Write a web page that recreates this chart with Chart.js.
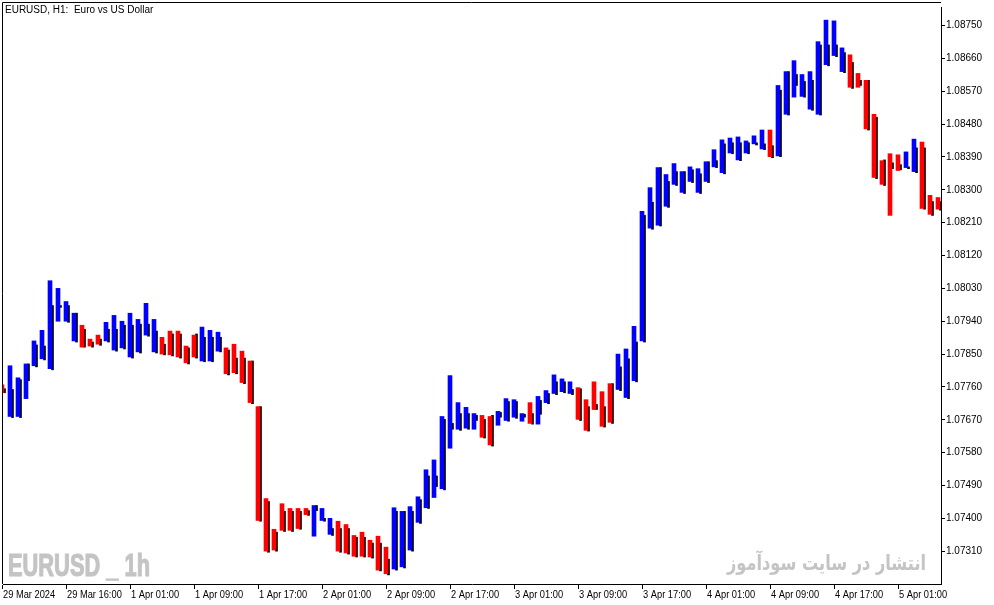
<!DOCTYPE html>
<html>
<head>
<meta charset="utf-8">
<script src="https://cdn.jsdelivr.net/npm/chart.js@4.4.1/dist/chart.umd.min.js"></script>
<style>
  html, body { margin: 0; padding: 0; background: #fff; }
</style>
</head>
<body>
<canvas id="chart" width="994" height="605"></canvas>
<script>
// EURUSD H1, 29 Mar 2024 08:00 -> 5 Apr 2024 05:00, one value per bar
const opens = [
  1.07766, 1.07679, 1.07679, 1.07728, 1.07818, 1.07837, 1.07810, 1.07940, 1.07940, 1.07886,
  1.07929, 1.07891, 1.07902, 1.07886, 1.07861, 1.07867, 1.07842, 1.07856, 1.07902, 1.07856,
  1.07896, 1.07913, 1.07913, 1.07872, 1.07902, 1.07831, 1.07831, 1.07858, 1.07867, 1.07877,
  1.07858, 1.07831, 1.07706, 1.07454, 1.07370, 1.07440, 1.07427, 1.07427, 1.07427, 1.07351,
  1.07394, 1.07356, 1.07392, 1.07383, 1.07353, 1.07362, 1.07340, 1.07351, 1.07321, 1.07261,
  1.07267, 1.07313, 1.07389, 1.07429, 1.07457, 1.07481, 1.07592, 1.07644, 1.07647, 1.07644,
  1.07682, 1.07679, 1.07655, 1.07668, 1.07677, 1.07666, 1.07717, 1.07658, 1.07717, 1.07742,
  1.07747, 1.07742, 1.07758, 1.07725, 1.07774, 1.07747, 1.07769, 1.07753, 1.07731, 1.07777,
  1.07886, 1.08195, 1.08203, 1.08255, 1.08315, 1.08293, 1.08323, 1.08293, 1.08323, 1.08363,
  1.08347, 1.08401, 1.08382, 1.08401, 1.08426, 1.08412, 1.08464, 1.08393, 1.08507, 1.08554,
  1.08556, 1.08521, 1.08507, 1.08643, 1.08668, 1.08624, 1.08670, 1.08619, 1.08600, 1.08507,
  1.08380, 1.08399, 1.08396, 1.08361, 1.08350, 1.08431, 1.08285, 1.08279
];
const closes = [
  1.07744, 1.07818, 1.07785, 1.07823, 1.07886, 1.07915, 1.08051, 1.08030, 1.07994, 1.07962,
  1.07869, 1.07872, 1.07877, 1.07937, 1.07956, 1.07940, 1.07962, 1.07945, 1.07989, 1.07945,
  1.07850, 1.07848, 1.07842, 1.07826, 1.07842, 1.07924, 1.07915, 1.07910, 1.07796, 1.07799,
  1.07772, 1.07717, 1.07394, 1.07310, 1.07313, 1.07367, 1.07367, 1.07372, 1.07410, 1.07435,
  1.07427, 1.07400, 1.07310, 1.07305, 1.07296, 1.07296, 1.07294, 1.07258, 1.07248, 1.07429,
  1.07419, 1.07432, 1.07459, 1.07533, 1.07560, 1.07679, 1.07791, 1.07717, 1.07704, 1.07687,
  1.07622, 1.07601, 1.07693, 1.07728, 1.07725, 1.07687, 1.07660, 1.07734, 1.07750, 1.07793,
  1.07782, 1.07774, 1.07671, 1.07641, 1.07698, 1.07652, 1.07663, 1.07850, 1.07864, 1.07926,
  1.08241, 1.08306, 1.08361, 1.08342, 1.08372, 1.08350, 1.08363, 1.08358, 1.08377, 1.08410,
  1.08437, 1.08442, 1.08445, 1.08434, 1.08448, 1.08464, 1.08391, 1.08586, 1.08624, 1.08654,
  1.08616, 1.08624, 1.08706, 1.08765, 1.08763, 1.08689, 1.08581, 1.08581, 1.08467, 1.08334,
  1.08315, 1.08230, 1.08353, 1.08404, 1.08439, 1.08249, 1.08233, 1.08247
];
// black shadow strip on the right side of each bar
const shadowHigh = [
  1.07755, 1.07753, 1.07780, 1.07823, 1.07875, 1.07872, 1.07983, 1.07983, 1.07983, 1.07962,
  1.07918, 1.07883, 1.07891, 1.07918, 1.07918, 1.07929, 1.07929, 1.07932, 1.07932, 1.07913,
  1.07877, 1.07905, 1.07905, 1.07867, 1.07905, 1.07896, 1.07896, 1.07896, 1.07861, 1.07839,
  1.07839, 1.07831, 1.07706, 1.07446, 1.07362, 1.07419, 1.07419, 1.07419, 1.07421, 1.07435,
  1.07400, 1.07372, 1.07372, 1.07372, 1.07348, 1.07348, 1.07332, 1.07332, 1.07288, 1.07419,
  1.07419, 1.07419, 1.07451, 1.07516, 1.07516, 1.07671, 1.07660, 1.07687, 1.07687, 1.07682,
  1.07671, 1.07682, 1.07690, 1.07720, 1.07720, 1.07685, 1.07687, 1.07723, 1.07742, 1.07774,
  1.07774, 1.07753, 1.07755, 1.07706, 1.07712, 1.07706, 1.07769, 1.07815, 1.07837, 1.07883,
  1.08230, 1.08266, 1.08361, 1.08323, 1.08350, 1.08350, 1.08355, 1.08344, 1.08377, 1.08380,
  1.08426, 1.08429, 1.08429, 1.08429, 1.08429, 1.08426, 1.08421, 1.08573, 1.08624, 1.08616,
  1.08597, 1.08600, 1.08697, 1.08697, 1.08697, 1.08676, 1.08649, 1.08600, 1.08600, 1.08499,
  1.08382, 1.08374, 1.08369, 1.08363, 1.08415, 1.08415, 1.08268, 1.08268
];
const shadowLow = [
  1.07744, 1.07676, 1.07676, 1.07777, 1.07815, 1.07834, 1.07807, 1.07978, 1.07937, 1.07883,
  1.07869, 1.07869, 1.07874, 1.07883, 1.07858, 1.07864, 1.07839, 1.07853, 1.07899, 1.07853,
  1.07848, 1.07845, 1.07839, 1.07823, 1.07839, 1.07829, 1.07829, 1.07856, 1.07793, 1.07796,
  1.07769, 1.07714, 1.07392, 1.07307, 1.07310, 1.07364, 1.07364, 1.07370, 1.07408, 1.07421,
  1.07392, 1.07353, 1.07307, 1.07302, 1.07294, 1.07294, 1.07291, 1.07256, 1.07245, 1.07258,
  1.07264, 1.07310, 1.07386, 1.07427, 1.07487, 1.07478, 1.07644, 1.07641, 1.07644, 1.07668,
  1.07620, 1.07598, 1.07677, 1.07666, 1.07674, 1.07677, 1.07658, 1.07685, 1.07714, 1.07739,
  1.07744, 1.07739, 1.07668, 1.07639, 1.07698, 1.07650, 1.07660, 1.07750, 1.07728, 1.07774,
  1.07883, 1.08192, 1.08201, 1.08252, 1.08312, 1.08290, 1.08320, 1.08290, 1.08320, 1.08361,
  1.08344, 1.08399, 1.08380, 1.08399, 1.08423, 1.08410, 1.08388, 1.08391, 1.08505, 1.08586,
  1.08554, 1.08518, 1.08505, 1.08640, 1.08665, 1.08621, 1.08578, 1.08586, 1.08464, 1.08331,
  1.08312, 1.08358, 1.08355, 1.08358, 1.08347, 1.08247, 1.08230, 1.08244
];

// one time label every 8 bars
const labelStep = 8;
const timeLabels = [
  "29 Mar 2024", "29 Mar 16:00", "1 Apr 01:00", "1 Apr 09:00", "1 Apr 17:00",
  "2 Apr 01:00", "2 Apr 09:00", "2 Apr 17:00", "3 Apr 01:00", "3 Apr 09:00",
  "3 Apr 17:00", "4 Apr 01:00", "4 Apr 09:00", "4 Apr 17:00", "5 Apr 01:00"
];
const priceTicks = [
  1.07310, 1.07400, 1.07490, 1.07580, 1.07670, 1.07760, 1.07850, 1.07940, 1.08030,
  1.08120, 1.08210, 1.08300, 1.08390, 1.08480, 1.08570, 1.08660, 1.08750
];

const UP = "#0000ff";
const DOWN = "#ff0000";
const FONT = '"Liberation Sans", Arial, sans-serif';

const bodies = opens.map((o, i) => ({ x: i, y: [o, closes[i]] }));
const shadows = shadowHigh.map((h, i) => ({ x: i, y: [shadowLow[i], h] }));
const bodyColors = opens.map((o, i) => (closes[i] >= o ? UP : DOWN));

// draw text squeezed/stretched to a given width
function fitText(ctx, text, x, y, width, stroke) {
  const w = ctx.measureText(text).width;
  ctx.save();
  ctx.translate(x, y);
  ctx.scale(width / w, 1);
  ctx.fillText(text, 0, 0);
  if (stroke) ctx.strokeText(text, 0, 0);
  ctx.restore();
}

// frame, title, time labels and the two watermarks
const decor = {
  id: "decor",
  beforeDatasetsDraw(chart) {
    const ctx = chart.ctx;
    ctx.save();
    ctx.fillStyle = "#c4c4c4";
    ctx.strokeStyle = "#c4c4c4";
    ctx.lineWidth = 1.2;
    ctx.textBaseline = "alphabetic";
    ctx.font = 'bold 31px "Liberation Sans", Arial, sans-serif';
    fitText(ctx, "EURUSD _ 1h", 8, 576, 142, true);
    ctx.font = 'bold 21px "DejaVu Sans", sans-serif';
    fitText(ctx, "انتشار در سایت سودآموز", 727, 570, 199, false);
    ctx.restore();
  },
  afterDraw(chart) {
    const ctx = chart.ctx;
    const a = chart.chartArea;
    const xs = chart.scales.x;
    ctx.save();
    ctx.strokeStyle = "#000";
    ctx.lineWidth = 1;
    ctx.beginPath();
    ctx.moveTo(2.5, a.bottom);
    ctx.lineTo(2.5, 2.5);
    ctx.lineTo(a.right, 2.5);
    ctx.stroke();
    ctx.fillStyle = "#000";
    ctx.font = "10px " + FONT;
    ctx.textBaseline = "alphabetic";
    ctx.fillText("EURUSD, H1:  Euro vs US Dollar", 5, 13);
    timeLabels.forEach((t, k) => {
      const w = ctx.measureText(t).width * 0.93;
      fitText(ctx, t, xs.getPixelForValue(k * labelStep) + 1, 598, w, false);
    });
    ctx.restore();
  }
};

new Chart(document.getElementById("chart"), {
  type: "bar",
  data: {
    datasets: [
      {
        data: bodies,
        backgroundColor: bodyColors,
        barThickness: 4,
        borderWidth: 0,
        borderSkipped: false,
        grouped: false,
        xAxisID: "x",
        yAxisID: "y"
      },
      {
        data: shadows,
        backgroundColor: "#000",
        barThickness: 2,
        borderWidth: 0,
        borderSkipped: false,
        grouped: false,
        xAxisID: "xShadow",
        yAxisID: "y"
      }
    ]
  },
  plugins: [decor],
  options: {
    responsive: false,
    animation: false,
    events: [],
    layout: { padding: { left: 3, top: 2, right: 0, bottom: 0 } },
    plugins: { legend: { display: false }, tooltip: { enabled: false } },
    scales: {
      x: {
        type: "linear",
        offset: false,
        min: 0.125,
        max: 117.375,
        afterBuildTicks: (s) => {
          s.ticks = timeLabels.map((t, k) => ({ value: k * labelStep }));
        },
        afterFit: (s) => { s.height = 21; },
        grid: { display: true, offset: false, drawOnChartArea: false, drawTicks: true, tickLength: 5, color: "#000" },
        border: { display: true, color: "#000" },
        ticks: { display: false }
      },
      xShadow: {
        type: "linear",
        display: false,
        offset: false,
        min: 0.125 - 0.3125,
        max: 117.375 - 0.3125
      },
      y: {
        position: "right",
        min: 1.07220,
        max: 1.08801,
        afterBuildTicks: (s) => {
          s.ticks = priceTicks.map((v) => ({ value: v }));
        },
        afterFit: (s) => { s.width = 53; },
        grid: { display: true, drawOnChartArea: false, drawTicks: true, tickLength: 4, color: "#000" },
        border: { display: true, color: "#000" },
        ticks: {
          padding: 1,
          color: "#000",
          font: { family: FONT, size: 10 },
          callback: (v) => v.toFixed(5)
        }
      }
    }
  }
});
</script>
</body>
</html>
